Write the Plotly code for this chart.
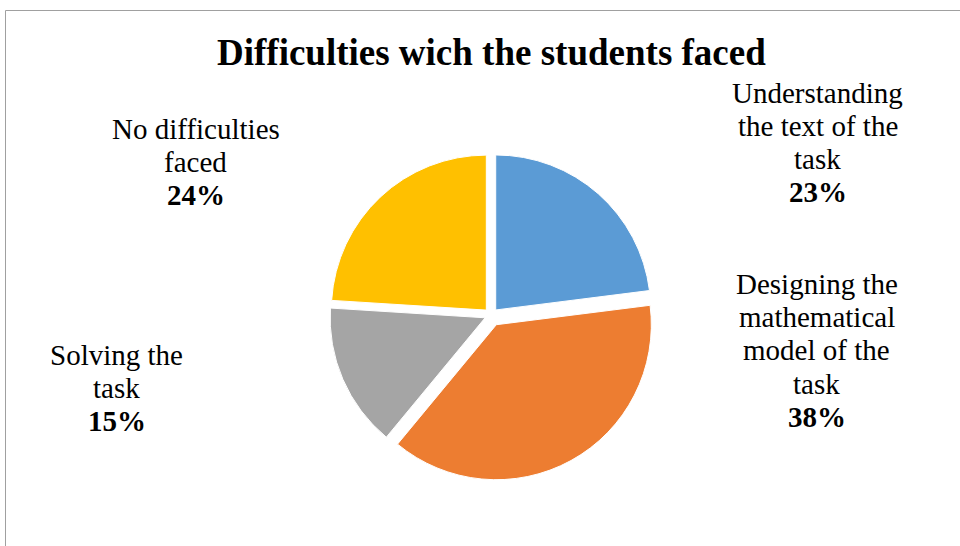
import plotly.graph_objects as go

# ---- data ----
categories = [
    "Understanding the text of the task",
    "Designing the mathematical model of the task",
    "Solving the task",
    "No difficulties faced",
]
values = [23, 38, 15, 24]
label_lines = [
    ["Understanding", "the text of the", "task"],
    ["Designing the", "mathematical", "model of the", "task"],
    ["Solving the", "task"],
    ["No difficulties", "faced"],
]
colors = ["#5B9BD5", "#ED7D31", "#A5A5A5", "#FFC000"]
pulls = [0.045, 0.07, 0.042, 0.045]
title_text = "Difficulties wich the students faced"

W, H = 960, 546
FONT = "Liberation Serif, Times New Roman, serif"

# pie geometry (pixels)
cx, cy, R = 491.1, 315.2, 155.0
half = R * (1 + max(pulls))

fig = go.Figure(go.Pie(
    labels=categories,
    values=values,
    marker=dict(colors=colors, line=dict(color="white", width=1)),
    pull=pulls,
    sort=False,
    direction="clockwise",
    rotation=0,
    textinfo="none",
    hoverinfo="label+percent",
    showlegend=False,
    domain=dict(x=[(cx - half) / W, (cx + half) / W],
                y=[1 - (cy + half) / H, 1 - (cy - half) / H]),
))

# label placement: (x centre, first baseline) in pixels
label_pos = [(817.5, 102.3), (816.5, 293.5), (116.7, 364.5), (195.8, 138.3)]
STEP = 33.3
FS = 29
annotations = []
for lines, v, (lx, ly) in zip(label_lines, values, label_pos):
    texts = [(t, False) for t in lines] + [(f"{v}%", True)]
    for i, (t, bold) in enumerate(texts):
        base = ly + i * STEP
        yc = base - 0.3375 * FS
        annotations.append(dict(
            x=lx / W, y=1 - yc / H, xref="paper", yref="paper",
            xanchor="center", yanchor="middle", showarrow=False,
            text=f"<b>{t}</b>" if bold else t,
            font=dict(family=FONT, size=FS, color="black"),
        ))

# title
TFS = 37
annotations.append(dict(
    x=491.5 / W, y=1 - (65 - 0.3375 * TFS) / H, xref="paper", yref="paper",
    xanchor="center", yanchor="middle", showarrow=False,
    text=f"<b>{title_text}</b>",
    font=dict(family=FONT, size=TFS, color="black"),
))

shapes = [
    dict(type="line", xref="paper", yref="paper", x0=5.5 / W, x1=1, y0=1 - 10.5 / H, y1=1 - 10.5 / H,
         line=dict(color="#A0A0A0", width=1)),
    dict(type="line", xref="paper", yref="paper", x0=5.5 / W, x1=5.5 / W, y0=0, y1=1 - 10.5 / H,
         line=dict(color="#A0A0A0", width=1)),
]

fig.update_layout(
    width=W, height=H,
    margin=dict(l=0, r=0, t=0, b=0),
    paper_bgcolor="white", plot_bgcolor="white",
    annotations=annotations, shapes=shapes,
)

fig.write_html("out.html")
